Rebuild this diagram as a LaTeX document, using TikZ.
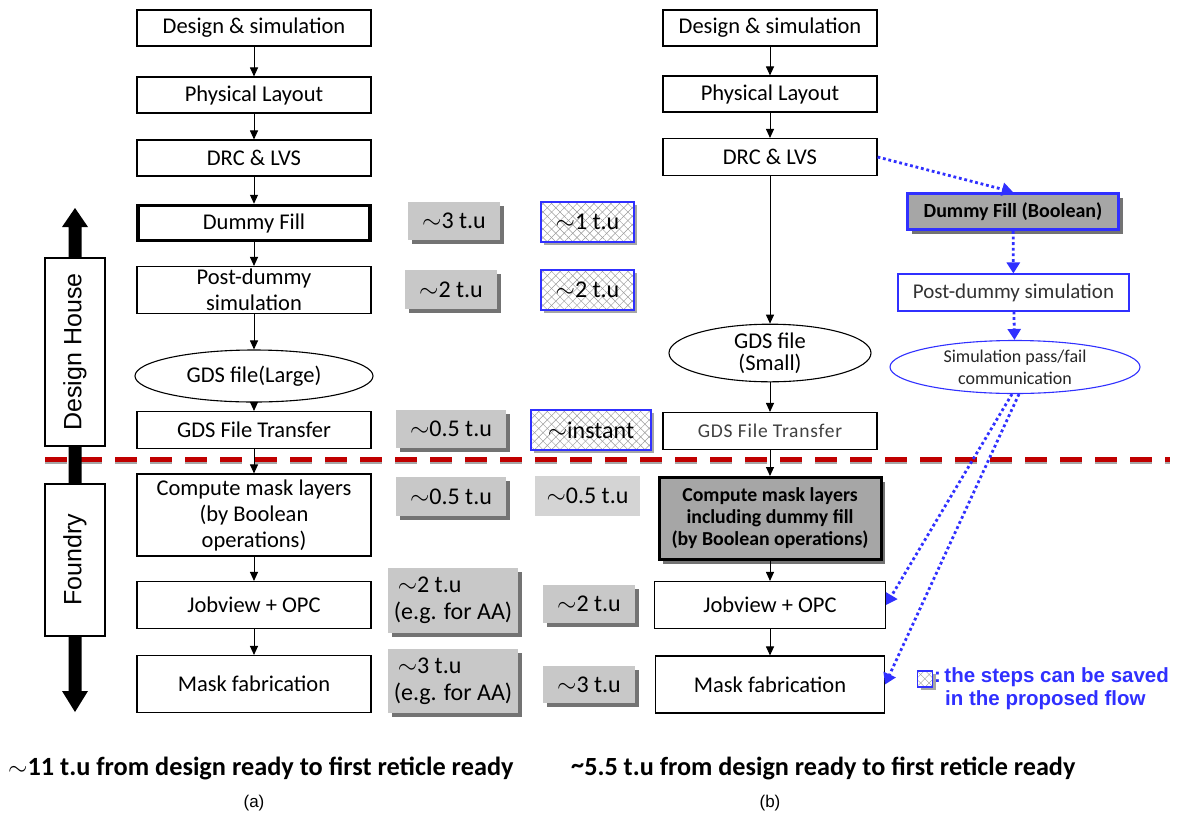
\documentclass[tikz,border=0pt]{standalone}
\usepackage{fontspec}
\setmainfont{Carlito}
\newfontfamily\arialf{Liberation Sans}
\newfontfamily\carlsp[LetterSpace=4]{Carlito}
\usetikzlibrary{shapes.geometric,shadows,patterns.meta,arrows.meta}
\definecolor{myblue}{HTML}{3030FF}
\definecolor{mydred}{HTML}{C00000}
\definecolor{gfill}{HTML}{C8C8C8}
\definecolor{lfill}{HTML}{D4D4D4}
\definecolor{dfill}{HTML}{A6A6A6}
\newcommand\fsz[2]{\fontsize{#1}{#2}\selectfont}
\tikzset{
 bx/.style={draw, line width=1.1pt, fill=white, inner sep=0pt, align=center, font=\fsz{22.5}{26}},
 ell/.style={bx, ellipse},
 arr/.style={-{Triangle[width=8pt,length=9pt]}, line width=1pt},
 dotarr/.style={myblue, line width=2.8pt, dash pattern=on 2.8pt off 2.8pt, -{Triangle[width=13pt,length=11pt]}},
 gshadow/.style={drop shadow={shadow xshift=4pt, shadow yshift=-4pt, fill=black!55, opacity=1}},
 gbox/.style={fill=gfill, inner sep=0pt, align=center, font=\fsz{24}{27}, gshadow},
 hbox/.style={draw=myblue, line width=1.3pt, fill=white, inner sep=0pt, align=center, font=\fsz{24}{27},
   drop shadow={shadow xshift=3pt, shadow yshift=-3pt, fill=black!35, opacity=1},
   postaction={pattern={Lines[angle=45,distance=6pt,line width=0.45pt]}, pattern color=black!40},
   postaction={pattern={Lines[angle=-45,distance=6pt,line width=0.45pt]}, pattern color=black!40},
   postaction={draw=myblue, line width=1.3pt}},
 side/.style={draw, line width=1.5pt, fill=white, inner sep=0pt, rotate=90, font=\arialf\fsz{25}{28}},
}
\begin{document}
\begin{tikzpicture}[x=1pt,y=-1pt]
\useasboundingbox (0,0) rectangle (1184,823);

% red dashed separator
\draw[black!35, line width=5pt, dash pattern=on 22pt off 13pt] (45,461.5) -- (1170,461.5);
\draw[mydred, line width=5pt, dash pattern=on 22pt off 13pt] (45,459) -- (1170,459);

% side double arrow and labels
\fill (75,208) -- (88,227) -- (81.5,227) -- (81.5,691) -- (88,691) -- (75,712) -- (62,691) -- (68.5,691) -- (68.5,227) -- (62,227) -- cycle;
\node[side, minimum width=188pt, minimum height=60pt] (DH) at (75,352) {Design House};
\node[side, minimum width=152pt, minimum height=60pt] (FD) at (75,560) {Foundry};

% left flow
\node[bx, minimum width=234pt, minimum height=36pt] (L1) at (254,28) {Design \& simulation};
\node[bx, minimum width=234pt, minimum height=36pt] (L2) at (254,95) {Physical Layout};
\node[bx, minimum width=234pt, minimum height=36pt] (L3) at (254,158) {DRC \& LVS};
\node[bx, line width=3.5pt, minimum width=232pt, minimum height=35pt] (L4) at (254,223) {Dummy Fill};
\node[bx, minimum width=234pt, minimum height=47pt] (L5) at (254,290) {Post-dummy\\simulation};
\node[ell, minimum width=238pt, minimum height=52pt] (L6) at (254,376) {GDS file(Large)};
\node[bx, minimum width=234pt, minimum height=37pt] (L7) at (254,430) {GDS File Transfer};
\node[bx, minimum width=234pt, minimum height=82pt] (L8) at (254,515) {Compute mask layers\\(by Boolean\\operations)};
\node[bx, minimum width=234pt, minimum height=47pt] (L9) at (254,605) {Jobview + OPC};
\node[bx, minimum width=234pt, minimum height=57pt] (L10) at (254,684) {Mask fabrication};
\foreach \a/\b in {L1/L2,L2/L3,L3/L4,L4/L5,L5/L6,L6/L7,L7/L8,L8/L9,L9/L10}
  \draw[arr] (\a) -- (\b);

% time boxes, column 1
\node[gbox, minimum width=92pt, minimum height=38pt] (G1) at (454,221) {$\sim$3 t.u};
\node[gbox, minimum width=92pt, minimum height=39pt] (G2) at (451,289.5) {$\sim$2 t.u};
\node[gbox, minimum width=110pt, minimum height=38pt] (G3) at (451,429) {$\sim$0.5 t.u};
\node[gbox, minimum width=110pt, minimum height=39pt] (G4) at (451,496.5) {$\sim$0.5 t.u};
\node[gbox, align=left, minimum width=130pt, minimum height=65pt] (G5) at (453,600.5) {\,$\sim$2 t.u\\(e.g. for AA)};
\node[gbox, align=left, minimum width=130pt, minimum height=64pt] (G6) at (453,681) {\,$\sim$3 t.u\\(e.g. for AA)};

% time boxes, column 2
\node[hbox, minimum width=93pt, minimum height=40pt] (H1) at (587.5,222) {$\sim$1 t.u};
\node[hbox, minimum width=93pt, minimum height=40pt] (H2) at (587.5,290) {$\sim$2 t.u};
\node[hbox, minimum width=120pt, minimum height=40pt] (H3) at (591,430) {$\sim$instant};
\node[fill=lfill, inner sep=0pt, font=\fsz{24}{27}, minimum width=105pt, minimum height=40pt] (G7) at (587.5,496) {$\sim$0.5 t.u};
\node[gbox, minimum width=92pt, minimum height=38pt] (G8) at (589,604) {$\sim$2 t.u};
\node[gbox, minimum width=92pt, minimum height=37pt] (G9) at (589,684.5) {$\sim$3 t.u};

% right flow
\node[bx, minimum width=214pt, minimum height=36pt] (R1) at (770,28) {Design \& simulation};
\node[bx, minimum width=214pt, minimum height=36pt] (R2) at (770,94) {Physical Layout};
\node[bx, minimum width=214pt, minimum height=37pt] (R3) at (770,157) {DRC \& LVS};
\node[ell, minimum width=202pt, minimum height=50pt, font=\fsz{22.5}{22}] (R4) at (770,353) {GDS file\\(Small)};
\node[bx, minimum width=214pt, minimum height=37pt, text=black!75, font=\carlsp\fsz{19.5}{24}] (R5) at (770,431) {GDS File Transfer};
\node[bx, line width=3pt, fill=dfill, gshadow, minimum width=222pt, minimum height=82pt, font=\bfseries\fsz{19.8}{22}] (R6) at (770,518.5) {Compute mask layers\\including dummy fill\\(by Boolean operations)};
\node[bx, minimum width=231pt, minimum height=47pt] (R7) at (770,605) {Jobview + OPC};
\node[bx, minimum width=229pt, minimum height=57pt] (R8) at (770,684.5) {Mask fabrication};
\foreach \a/\b in {R1/R2,R2/R3,R3/R4,R4/R5,R5/R6,R6/R7,R7/R8}
  \draw[arr] (\a) -- (\b);

% proposed dummy-fill branch
\node[bx, draw=myblue, line width=3pt, fill=dfill, gshadow, minimum width=211pt, minimum height=36pt, font=\bfseries\fsz{20}{24}] (F1) at (1013,211.5) {Dummy Fill (Boolean)};
\node[bx, draw=myblue, minimum width=231pt, minimum height=37pt, text=black!80, font=\fsz{21}{24}] (F2) at (1013.5,292.5) {Post-dummy simulation};
\node[ell, draw=myblue, minimum width=250pt, minimum height=53pt, text=black!85, font=\fsz{18}{22}] (F3) at (1015,367) {Simulation pass/fail\\communication};
\draw[dotarr] (R3.east) -- (F1.north);
\draw[dotarr] (F1) -- (F2);
\draw[dotarr] (F2) -- (F3);
\draw[dotarr] ([xshift=-3pt]F3.south) -- (R7.east);
\draw[dotarr] ([xshift=4pt]F3.south) -- (R8.east);

% legend
\node[hbox, drop shadow={opacity=0}, minimum width=15pt, minimum height=16pt, line width=1pt] (LG) at (925,679) {};
\node[anchor=north west, inner sep=0pt, align=left, text=myblue, font=\arialf\bfseries\fsz{20.5}{23}] (LT) at (934,667) {:\,the steps can be saved\\\hspace*{11pt}in the proposed flow};

% bottom captions
\node[anchor=west, inner sep=0pt, font=\bfseries\fsz{26.3}{29}] (CA) at (8,768) {$\sim$11 t.u from design ready to first reticle ready};
\node[anchor=west, inner sep=0pt, font=\bfseries\fsz{26.2}{29}] (CB) at (571,768) {\raisebox{2pt}{\char"7E}5.5 t.u from design ready to first reticle ready};
\node[font=\arialf\fsz{17}{20}] (LA) at (254,803) {(a)};
\node[font=\arialf\fsz{17}{20}] (LB) at (770,803) {(b)};
\end{tikzpicture}
\end{document}
